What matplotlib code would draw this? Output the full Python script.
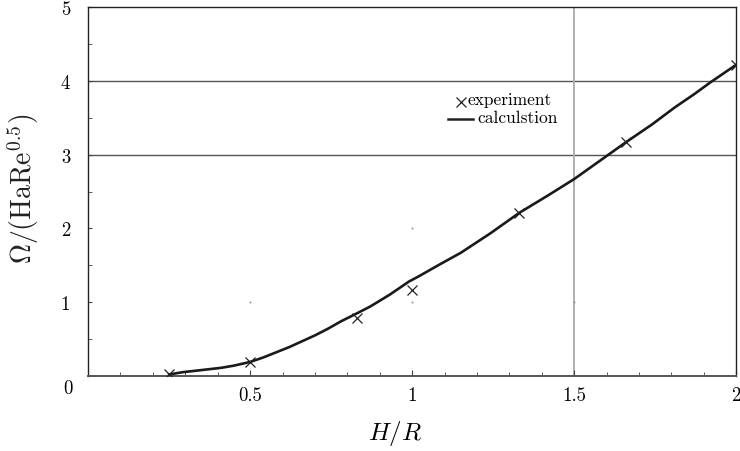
import numpy as np
import matplotlib
matplotlib.use("Agg")
import matplotlib.pyplot as plt
from matplotlib.ticker import MultipleLocator

plt.rcParams['font.family'] = ['cmr10', 'DejaVu Serif']
plt.rcParams['mathtext.fontset'] = 'cm'
plt.rcParams['axes.formatter.use_mathtext'] = True

# measured points
exp_x = [0.25, 0.50, 0.83, 1.0, 1.33, 1.66, 2.0]
exp_y = [0.02, 0.19, 0.78, 1.17, 2.21, 3.17, 4.21]

# computed curve
calc_x = [0.25, 0.29, 0.33, 0.37, 0.41, 0.45, 0.50, 0.54, 0.58, 0.62, 0.66, 0.70,
          0.74, 0.78, 0.83, 0.87, 0.90, 0.93, 0.96, 0.99, 1.02, 1.08, 1.15, 1.24,
          1.33, 1.42, 1.50, 1.58, 1.66, 1.74, 1.81, 1.87, 1.92, 1.96, 2.0]
calc_y = [0.02, 0.05, 0.07, 0.09, 0.11, 0.14, 0.19, 0.25, 0.32, 0.39, 0.47, 0.55,
          0.64, 0.74, 0.85, 0.94, 1.02, 1.10, 1.19, 1.28, 1.35, 1.50, 1.67, 1.93,
          2.21, 2.45, 2.67, 2.92, 3.17, 3.41, 3.64, 3.82, 3.98, 4.10, 4.22]

xticks = [0.5, 1, 1.5, 2]
xtick_labels = ['0.5', '1', '1.5', '2']
yticks = [1, 2, 3, 4, 5]
ytick_labels = ['1', '2', '3', '4', '5']

fig = plt.figure(figsize=(7.4, 4.52), dpi=100)
ax = fig.add_axes([0.119, 0.166, 0.876, 0.816])

# sparse grid: two horizontal lines and one vertical
for g in [3, 4]:
    ax.axhline(g, color='#555555', lw=1.0, zorder=1)
ax.axvline(1.5, color='#aaaaaa', lw=1.3, zorder=1)
# faint leftover grid dots
ax.plot([0.5, 1.0, 1.0, 1.5], [1, 1, 2, 1], ls='none', marker='s', ms=1.2,
        color='#888888', mec='none', zorder=1)

ax.plot(calc_x, calc_y, color='#1a1a1a', lw=1.9, zorder=3)
ax.plot(exp_x, exp_y, ls='none', marker='x', ms=7.5, mew=0.9, color='#222222', zorder=4)

ax.set_xlim(0, 2)
ax.set_ylim(0, 5)
ax.set_xticks(xticks)
ax.set_xticklabels(xtick_labels)
ax.set_yticks(yticks)
ax.set_yticklabels(ytick_labels)
ax.xaxis.set_minor_locator(MultipleLocator(0.1))
ax.yaxis.set_minor_locator(MultipleLocator(0.5))
ax.tick_params(which='both', direction='in', labelsize=13.5, color='#444444')
ax.tick_params(axis='x', which='major', length=4, pad=7)
ax.tick_params(axis='y', which='major', length=3, pad=13)
ax.tick_params(which='minor', length=3)

for s in ax.spines.values():
    s.set_color('#222222')
    s.set_linewidth(1.0)
ax.spines['bottom'].set_color('#555555')
ax.spines['bottom'].set_linewidth(1.4)

# shared origin label
ax.text(-0.031, -0.033, '0', transform=ax.transAxes, ha='center', va='center',
        fontsize=13.5)

ax.set_xlabel(r'$H/R$', fontsize=18)
ax.xaxis.set_label_coords(0.473, -0.115)
ax.set_ylabel(r'$\Omega/(\mathrm{HaRe}^{0.5})$', fontsize=20, color='#222222')
ax.yaxis.set_label_coords(-0.072, 0.51)

# legend entries
ax.plot([0.575], [0.744], transform=ax.transAxes, ls='none', marker='x', ms=6.5,
        mew=0.9, color='#222222', clip_on=False)
ax.text(0.585, 0.750, 'experiment', transform=ax.transAxes, ha='left', va='center',
        fontsize=12.5)
ax.plot([0.555, 0.594], [0.697, 0.697], transform=ax.transAxes, color='#222222', lw=1.8)
ax.text(0.600, 0.700, 'calculstion', transform=ax.transAxes, ha='left', va='center',
        fontsize=12.5)

fig.savefig('out.png', dpi=100)
